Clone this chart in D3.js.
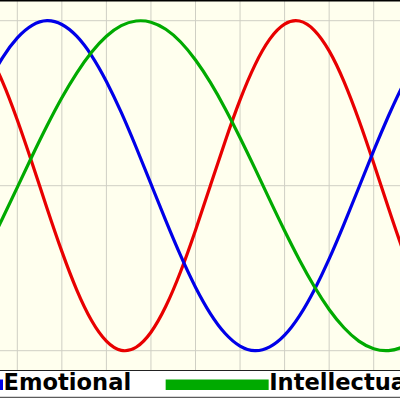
<!DOCTYPE html>
<html><head><meta charset="utf-8">
<script src="https://cdn.jsdelivr.net/npm/d3@7"></script>
<style>html,body{margin:0;padding:0;background:#fff;overflow:hidden}</style>
</head><body>
<svg id="c" width="400" height="400"></svg>
<script>
const days = d3.range(-2, 28);
const physical = [0.817,0.631,0.398,0.136,-0.136,-0.398,-0.631,-0.817,-0.942,-0.998,-0.979,-0.888,-0.731,-0.520,-0.270,0.000,0.270,0.520,0.731,0.888,0.979,0.998,0.942,0.817,0.631,0.398,0.136,-0.136,-0.398,-0.631];
const emotional = [0.615,0.775,0.896,0.972,1.000,0.977,0.906,0.789,0.632,0.444,0.233,0.011,-0.212,-0.424,-0.615,-0.775,-0.896,-0.972,-1.000,-0.977,-0.906,-0.789,-0.632,-0.444,-0.233,-0.011,0.212,0.424,0.615,0.775];
const intellectual = [-0.380,-0.199,-0.010,0.180,0.363,0.533,0.683,0.809,0.906,0.970,0.998,0.991,0.948,0.871,0.762,0.626,0.467,0.291,0.105,-0.086,-0.273,-0.450,-0.611,-0.750,-0.861,-0.942,-0.988,-0.999,-0.974,-0.914];
const seriesNames = ["Physical", "Emotional", "Intellectual"];
const seriesColors = ["#e80000", "#0000e8", "#00aa00"];
const gridDays = d3.range(-3, 28, 3);
const gridLevels = [-1, 0, 1];

const svg = d3.select("#c");
const x = d3.scaleLinear().domain([0, 24]).range([17.3, 373.7]);
const y = d3.scaleLinear().domain([-1, 1]).range([350.7, 20.7]);

// plot background
svg.append("rect").attr("x", -5).attr("y", 0).attr("width", 410).attr("height", 370.5).attr("fill", "#ffffee");

const grid = svg.append("g").attr("stroke", "#cfcfc4").attr("stroke-width", 1);
grid.selectAll("line.v").data(gridDays).join("line").attr("class","v")
  .attr("x1", d => x(d)).attr("x2", d => x(d)).attr("y1", 0).attr("y2", 370);
grid.selectAll("line.h").data(gridLevels).join("line").attr("class","h")
  .attr("x1", 0).attr("x2", 400).attr("y1", d => y(d)).attr("y2", d => y(d));

const all = [physical, emotional, intellectual];
const line = d3.line().x((d, i) => x(days[i])).y(d => y(d)).curve(d3.curveNatural);
svg.append("g").selectAll("path").data(all).join("path")
  .attr("d", d => line(d)).attr("fill", "none")
  .attr("stroke", (d, i) => seriesColors[i]).attr("stroke-width", 3.2)
  .attr("stroke-linejoin", "round");

// frame lines
svg.append("line").attr("x1", 0).attr("x2", 400).attr("y1", 0.7).attr("y2", 0.7).attr("stroke", "#000").attr("stroke-width", 1.6);
svg.append("line").attr("x1", 0).attr("x2", 400).attr("y1", 370.5).attr("y2", 370.5).attr("stroke", "#222").attr("stroke-width", 1);

// legend
svg.append("rect").attr("x", -5).attr("y", 371).attr("width", 410).attr("height", 26).attr("fill", "#fff");
svg.append("line").attr("x1", 0).attr("x2", 400).attr("y1", 397.3).attr("y2", 397.3).attr("stroke", "#333").attr("stroke-width", 1);

const lg = svg.append("g");
const swW = 103, swGap = 0.5, entryGap = 34.5;
let cx = 0;
const entries = seriesNames.map((name, i) => {
  const g = lg.append("g");
  g.append("rect").attr("x", 0).attr("y", 379.5).attr("width", swW).attr("height", 10.5).attr("fill", seriesColors[i]);
  const t = g.append("text").attr("x", swW + swGap).attr("y", 389.8)
    .attr("font-family", "DejaVu Sans").attr("font-weight", "bold").attr("font-size", 22.6)
    .attr("fill", "#000").text(name);
  const w = t.node().getComputedTextLength();
  const pos = cx;
  cx += swW + swGap + w + entryGap;
  return {g, pos};
});
// align so that Emotional swatch ends at x=3
const offset = 3 - swW - entries[1].pos;
entries.forEach(e => e.g.attr("transform", `translate(${e.pos + offset},0)`));
</script>
</body></html>
